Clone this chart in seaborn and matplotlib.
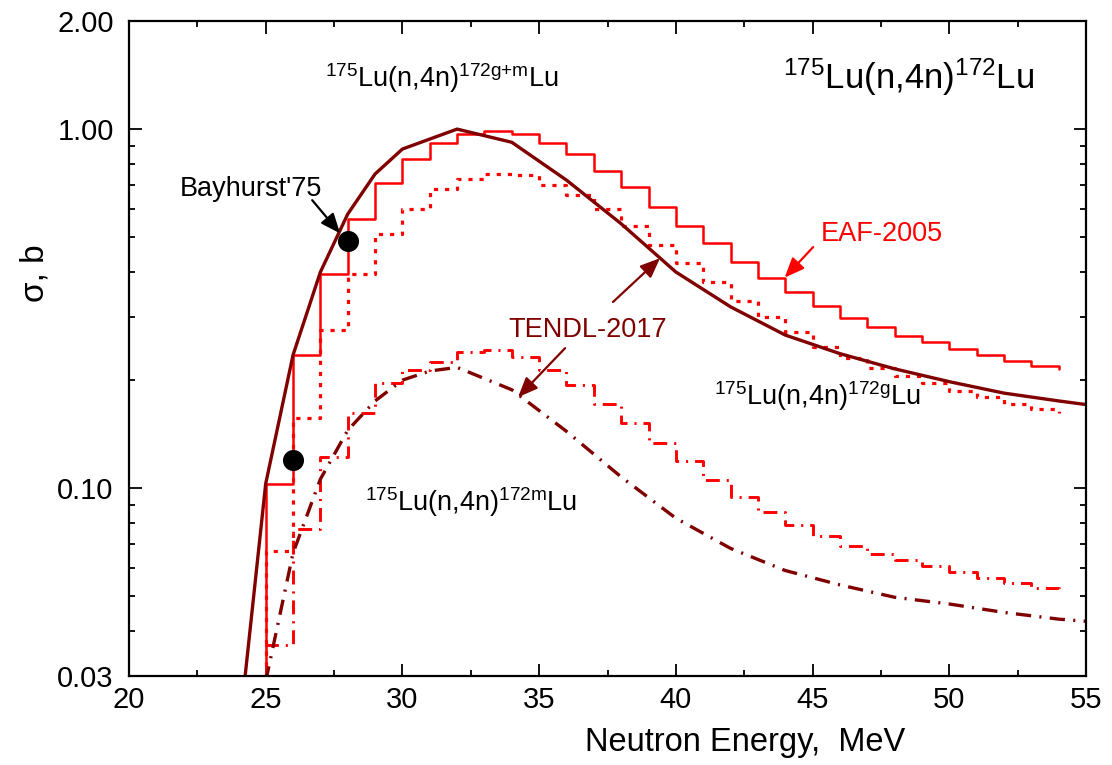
import matplotlib
matplotlib.use("Agg")
import matplotlib.pyplot as plt
import matplotlib.ticker as mticker
import seaborn as sns
import numpy as np

# ---------------- data ----------------
# EAF-2005 group-wise (bin left edges, last point closes the final bin)
eaf_energy = [24, 25, 26, 27, 28, 29, 30, 31, 32, 33, 34, 35, 36, 37, 38, 39,
              40, 41, 42, 43, 44, 45, 46, 47, 48, 49, 50, 51, 52, 53, 54]
eaf_total = [0.020, 0.103, 0.235, 0.396, 0.561, 0.709, 0.823, 0.912, 0.967, 0.988,
             0.969, 0.916, 0.852, 0.766, 0.688, 0.608, 0.538, 0.481, 0.427, 0.386,
             0.351, 0.321, 0.298, 0.281, 0.266, 0.255, 0.244, 0.235, 0.226, 0.219, 0.215]
eaf_ground = [0.015, 0.067, 0.157, 0.276, 0.396, 0.509, 0.601, 0.680, 0.727, 0.749,
              0.745, 0.701, 0.655, 0.599, 0.538, 0.475, 0.423, 0.374, 0.333, 0.300,
              0.272, 0.248, 0.230, 0.216, 0.205, 0.196, 0.187, 0.180, 0.172, 0.166, 0.162]
eaf_meta = [0.005, 0.0366, 0.0768, 0.122, 0.162, 0.196, 0.214, 0.225, 0.240, 0.243,
            0.232, 0.213, 0.194, 0.172, 0.152, 0.134, 0.119, 0.1055, 0.0947, 0.086,
            0.0789, 0.0735, 0.0691, 0.0657, 0.0630, 0.0607, 0.0584, 0.0563, 0.0544, 0.0528, 0.0515]

# TENDL-2017 curves
tendl_total_energy = [24, 25, 26, 27, 28, 29, 30, 32, 34, 36, 38, 40, 42, 44, 46, 48, 50, 52, 54, 55]
tendl_total = [0.020, 0.103, 0.235, 0.400, 0.580, 0.750, 0.880, 1.000, 0.919, 0.721,
               0.545, 0.400, 0.320, 0.267, 0.237, 0.215, 0.198, 0.184, 0.175, 0.171]
tendl_meta_energy = [25, 26, 27, 28, 29, 30, 31, 32, 34, 36, 38, 40, 42, 44, 46, 48, 50, 52, 54, 55]
tendl_meta = [0.029, 0.066, 0.106, 0.145, 0.175, 0.200, 0.212, 0.217, 0.188, 0.144,
              0.1075, 0.0825, 0.068, 0.059, 0.0538, 0.0497, 0.0476, 0.0451, 0.0432, 0.0426]

# Experimental data (Bayhurst'75)
bay_energy = [26.0, 28.0]
bay_sigma = [0.120, 0.489]

x_ticks = [20, 25, 30, 35, 40, 45, 50, 55]
y_ticks = [0.03, 0.10, 1.00, 2.00]
y_tick_labels = ["0.03", "0.10", "1.00", "2.00"]

RED = "#FF0000"
DARK = "#800000"

# ---------------- style ----------------
sns.set_theme(style="ticks")
plt.rcParams["font.family"] = ["Liberation Sans", "DejaVu Sans"]
plt.rcParams["mathtext.fontset"] = "custom"
plt.rcParams["mathtext.rm"] = "Liberation Sans"
plt.rcParams["mathtext.it"] = "Liberation Sans"
plt.rcParams["mathtext.default"] = "regular"
plt.rcParams["lines.scale_dashes"] = False
for k in ["text.color", "axes.labelcolor", "xtick.color", "ytick.color",
          "xtick.labelcolor", "ytick.labelcolor"]:
    plt.rcParams[k] = "black"

fig = plt.figure(figsize=(11.12, 7.65), dpi=100)
ax = fig.add_axes([129 / 1112, 1 - 676 / 765, 957 / 1112, 655 / 765])

# EAF histograms
sns.lineplot(x=eaf_energy, y=eaf_total, drawstyle="steps-post", color=RED,
             lw=1.8, errorbar=None, ax=ax)
sns.lineplot(x=eaf_energy, y=eaf_ground, drawstyle="steps-post", color=RED,
             lw=2.3, errorbar=None, ax=ax, linestyle=(0, (3, 5)))
sns.lineplot(x=eaf_energy, y=eaf_meta, drawstyle="steps-post", color=RED,
             lw=2.1, errorbar=None, ax=ax, linestyle=(0, (10, 5, 1.5, 5)))
# TENDL curves
sns.lineplot(x=tendl_total_energy, y=tendl_total, color=DARK, lw=2.4,
             errorbar=None, ax=ax)
sns.lineplot(x=tendl_meta_energy, y=tendl_meta, color=DARK, lw=2.4,
             errorbar=None, ax=ax, linestyle=(0, (11, 6, 1.5, 6)))
# experiment
sns.scatterplot(x=bay_energy, y=bay_sigma, s=230, color="black",
                edgecolor="black", linewidth=0, zorder=6, ax=ax)

ax.set_yscale("log")
ax.set_xlim(20, 55)
ax.set_ylim(0.03, 2.0)

ax.xaxis.set_major_locator(mticker.FixedLocator(x_ticks))
ax.xaxis.set_minor_locator(mticker.MultipleLocator(2.5))
ax.set_xticklabels([str(t) for t in x_ticks])
ax.yaxis.set_major_locator(mticker.FixedLocator(y_ticks))
ax.yaxis.set_major_formatter(mticker.FixedFormatter(y_tick_labels))
minor_y = [0.04, 0.05, 0.06, 0.07, 0.08, 0.09, 0.2, 0.3, 0.4, 0.5, 0.6, 0.7, 0.8, 0.9]
ax.yaxis.set_minor_locator(mticker.FixedLocator(minor_y))
ax.yaxis.set_minor_formatter(mticker.NullFormatter())

for s in ax.spines.values():
    s.set_visible(True)
    s.set_linewidth(1.6)
    s.set_color("black")
ax.tick_params(which="both", direction="in", top=True, right=True, color="black",
               width=1.3, labelcolor="black")
ax.tick_params(which="major", length=9)
ax.tick_params(which="minor", length=4.5)
ax.tick_params(axis="x", which="major", labelsize=21, pad=7)
ax.tick_params(axis="y", which="major", labelsize=21, pad=11)

ax.set_xlabel("Neutron Energy,  MeV", fontsize=23.5, color="black")
ax.xaxis.set_label_coords(0.644, -0.078)
ax.set_ylabel("σ, b", fontsize=24, color="black")
ax.yaxis.set_label_coords(-0.082, 0.615)

# annotations
ax.text(43.92, 1.293, r"$^{175}$Lu(n,4n)$^{172}$Lu", fontsize=25, color="black",
        ha="left", va="baseline")
ax.text(27.17, 1.31, r"$^{175}$Lu(n,4n)$^{172g{+}m}$Lu", fontsize=19.5, color="black",
        ha="left", va="baseline")
ax.text(41.40, 0.1703, r"$^{175}$Lu(n,4n)$^{172g}$Lu", fontsize=19.5, color="black",
        ha="left", va="baseline")
ax.text(28.63, 0.0863, r"$^{175}$Lu(n,4n)$^{172m}$Lu", fontsize=19.5, color="black",
        ha="left", va="baseline")
ax.text(21.87, 0.652, "Bayhurst'75", fontsize=19.5, color="black", ha="left", va="baseline")
ax.text(45.31, 0.489, "EAF-2005", fontsize=19.5, color=RED, ha="left", va="baseline")
ax.text(33.86, 0.264, "TENDL-2017", fontsize=19.5, color=DARK, ha="left", va="baseline")

def arrow(tail, tip, color):
    ax.annotate("", xy=tip, xytext=tail,
                arrowprops=dict(arrowstyle="-|>,head_length=0.6,head_width=0.25",
                                color=color, lw=1.6, mutation_scale=20,
                                shrinkA=0, shrinkB=0))

arrow((26.70, 0.634), (27.72, 0.5125), "black")
arrow((45.02, 0.4692), (43.98, 0.386), RED)
arrow((37.70, 0.330), (39.42, 0.437), DARK)
arrow((35.95, 0.2455), (34.23, 0.1793), DARK)

fig.savefig("out.png", dpi=100)
